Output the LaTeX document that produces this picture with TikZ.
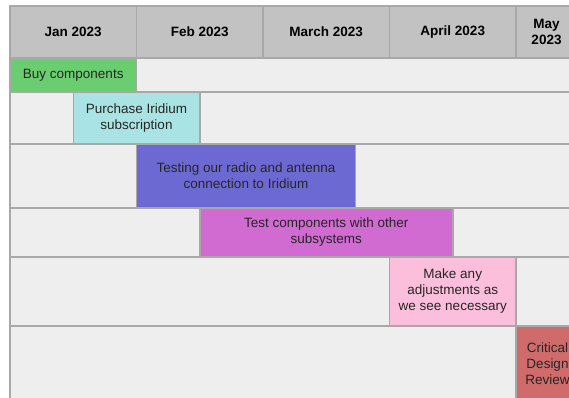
\documentclass[tikz,border=0pt]{standalone}
\usepackage{fontspec}
\setmainfont{Liberation Sans}
\usepackage{xcolor}
\usepackage{tikz}
\usetikzlibrary{positioning}

\definecolor{gridgray}{RGB}{168,168,168}
\definecolor{headgray}{RGB}{194,194,194}
\definecolor{rowbg}{RGB}{238,238,238}
\definecolor{buygreen}{RGB}{106,206,112}
\definecolor{iricyan}{RGB}{170,227,227}
\definecolor{radioblue}{RGB}{108,106,210}
\definecolor{subsmag}{RGB}{209,106,209}
\definecolor{adjpink}{RGB}{251,190,219}
\definecolor{cdrred}{RGB}{208,107,107}

\begin{document}
\begin{tikzpicture}[
    x=1pt, y=-1pt,
    cell/.style={rectangle, draw=gridgray, line width=1.5pt, fill=#1, anchor=north west, inner sep=0pt, outer sep=0pt, align=center, font=\fontsize{13.5}{16}\selectfont, text=black!85},
    cell/.default=rowbg,
    month/.style={cell=headgray, minimum width=126.5pt, minimum height=52pt, font=\fontsize{13.5}{16}\selectfont\bfseries, text=black}
]
\useasboundingbox (0,0) rectangle (569,397);
\clip (0,0) rectangle (569,397);

% Month header
\node[month] (jan) at (10,6) {Jan 2023};
\node[month, right=0pt of jan] (feb) {Feb 2023};
\node[month, right=0pt of feb] (mar) {March 2023};
\node[month, right=0pt of mar] (apr) {April 2023};
\node[month, minimum width=61pt, right=0pt of apr] (may) {May\\2023};

% Background rows
\node[cell, minimum width=700pt, minimum height=34pt] (row1) at (jan.south west) {};
\node[cell, minimum width=700pt, minimum height=52pt] (row2) at (row1.south west) {};
\node[cell, minimum width=700pt, minimum height=64pt] (row3) at (row2.south west) {};
\node[cell, minimum width=700pt, minimum height=49pt] (row4) at (row3.south west) {};
\node[cell, minimum width=700pt, minimum height=69pt] (row5) at (row4.south west) {};
\node[cell, minimum width=700pt, minimum height=76pt] (row6) at (row5.south west) {};

% Tasks
\node[cell=buygreen, minimum width=126.5pt, minimum height=34pt] (buy) at (row1.north west) {Buy components};
\node[cell=iricyan, minimum width=126.5pt, minimum height=52pt] (iridium) at (jan.south |- row2.north) {Purchase Iridium\\subscription};
\node[cell=radioblue, minimum width=219pt, minimum height=64pt] (radio) at (feb.south west |- row3.north) {Testing our radio and antenna\\connection to Iridium};
\node[cell=subsmag, minimum width=253pt, minimum height=49pt] (subsys) at (feb.south |- row4.north) {Test components with other\\subsystems};
\node[cell=adjpink, minimum width=126.5pt, minimum height=69pt] (adjust) at (apr.south west |- row5.north) {Make any\\adjustments as\\we see necessary};
\node[cell=cdrred, minimum width=63pt, minimum height=76pt] (cdr) at (may.south west |- row6.north) {Critical\\Design\\Review};
\end{tikzpicture}
\end{document}
